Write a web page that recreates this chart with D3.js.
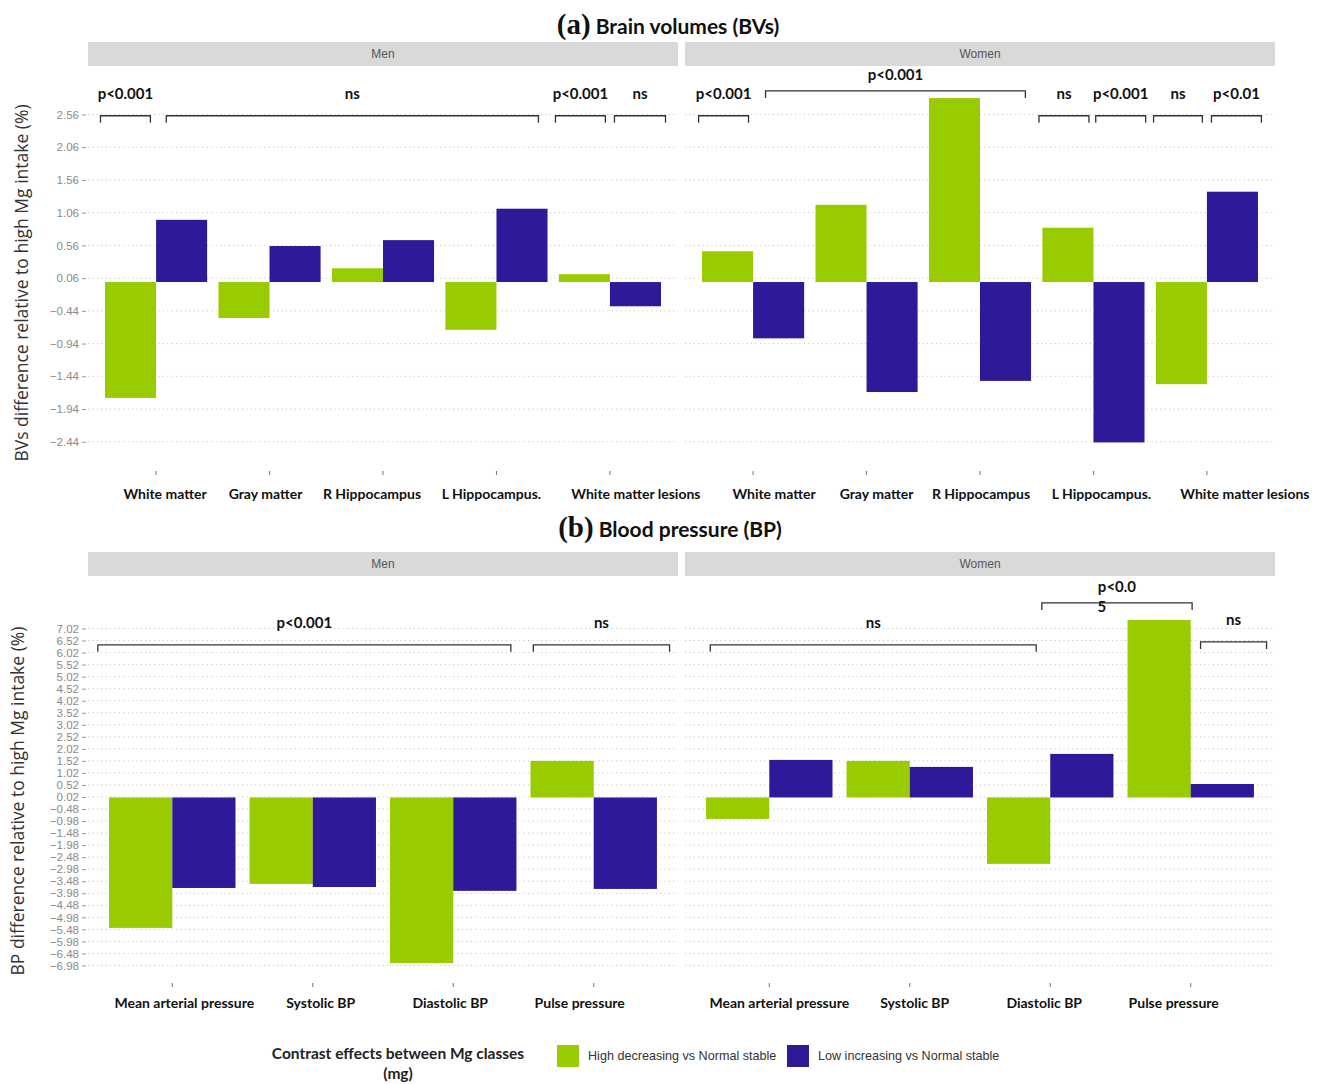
<!DOCTYPE html>
<html><head><meta charset="utf-8">
<script src="https://cdn.jsdelivr.net/npm/d3@7"></script>
<style>body{margin:0;background:#fff}</style>
</head><body><div id="chart"></div>
<script>
// ---------- DATA ----------
const facets = ["Men", "Women"];
const seriesNames = ["High decreasing vs Normal stable", "Low increasing vs Normal stable"];
const seriesColors = ["#99cc00", "#2e1a98"];

const bvCategories = ["White matter", "Gray matter", "R Hippocampus", "L Hippocampus.", "White matter lesions"];
const bvMenHigh   = [-1.77, -0.55, 0.21, -0.73, 0.12];
const bvMenLow    = [0.95, 0.55, 0.64, 1.12, -0.37];
const bvWomenHigh = [0.47, 1.18, 2.81, 0.83, -1.56];
const bvWomenLow  = [-0.86, -1.68, -1.51, -2.45, 1.38];
const bvTicks = [2.56, 2.06, 1.56, 1.06, 0.56, 0.06, -0.44, -0.94, -1.44, -1.94, -2.44];

const bpCategories = ["Mean arterial pressure", "Systolic BP", "Diastolic BP", "Pulse pressure"];
const bpMenHigh   = [-5.42, -3.59, -6.88, 1.52];
const bpMenLow    = [-3.76, -3.72, -3.88, -3.80];
const bpWomenHigh = [-0.89, 1.52, -2.76, 7.37];
const bpWomenLow  = [1.56, 1.27, 1.81, 0.56];
const bpTicks = [7.02, 6.52, 6.02, 5.52, 5.02, 4.52, 4.02, 3.52, 3.02, 2.52, 2.02, 1.52, 1.02, 0.52, 0.02,
  -0.48, -0.98, -1.48, -1.98, -2.48, -2.98, -3.48, -3.98, -4.48, -4.98, -5.48, -5.98, -6.48, -6.98];

// significance brackets: [facet, xStart, xEnd, y(level), label]
const bvBrackets = [
  ["Men", 0.51, 0.95, 2.54, "p<0.001"],
  ["Men", 1.09, 4.37, 2.54, "ns"],
  ["Men", 4.52, 4.96, 2.54, "p<0.001"],
  ["Men", 5.04, 5.49, 2.54, "ns"],
  ["Women", 0.52, 0.96, 2.54, "p<0.001"],
  ["Women", 1.11, 3.40, 2.92, "p<0.001"],
  ["Women", 3.52, 3.96, 2.54, "ns"],
  ["Women", 4.02, 4.46, 2.54, "p<0.001"],
  ["Women", 4.53, 4.96, 2.54, "ns"],
  ["Women", 5.04, 5.48, 2.54, "p<0.01"]
];
const bpBrackets = [
  ["Men", 0.47, 3.41, 6.34, "p<0.001"],
  ["Men", 3.57, 4.54, 6.34, "ns"],
  ["Women", 0.58, 2.90, 6.34, "ns"],
  ["Women", 2.94, 4.01, 8.08, "p<0.0|5"],
  ["Women", 4.07, 4.54, 6.46, "ns"]
];

// ---------- DRAW ----------
const W = 1324, H = 1084;
const svg = d3.select("#chart").append("svg").attr("width", W).attr("height", H)
  .style("font-family", "'Liberation Sans', Arial, sans-serif");

const facetRanges = {Men: [88, 678], Women: [685, 1275]};
const boldFont = "Lato, 'Open Sans', sans-serif";

function drawPanel(cfg) {
  const y = d3.scaleLinear().domain(cfg.yDomain).range([cfg.panelBottom, cfg.panelTop]);
  const n = cfg.categories.length;
  const g = svg.append("g");

  // title
  const t = g.append("text").attr("x", cfg.titleX).attr("y", cfg.titleY).attr("text-anchor", "middle");
  t.append("tspan").text(cfg.titleTag).attr("font-family", "'Liberation Serif', 'Times New Roman', serif")
    .attr("font-weight", "bold").attr("font-size", 29).attr("fill", "#111");
  t.append("tspan").text(" " + cfg.title).attr("font-family", boldFont)
    .attr("font-weight", "bold").attr("font-size", 21).attr("fill", "#111");

  // y axis title
  g.append("text")
    .attr("transform", `translate(${cfg.yTitleX},${cfg.yTitleY}) rotate(-90)`)
    .attr("text-anchor", "middle").attr("font-family", "'Open Sans', sans-serif")
    .attr("font-size", 17.5).attr("fill", "#333").text(cfg.yTitle);

  // y ticks labels
  const yAxis = d3.axisLeft(y).tickValues(cfg.ticks).tickSize(4).tickPadding(3)
    .tickFormat(d3.format(".2f"));
  const ya = g.append("g").attr("transform", `translate(86,0)`).call(yAxis);
  ya.select(".domain").remove();
  ya.selectAll(".tick line").attr("stroke", "#999");
  ya.selectAll(".tick text").attr("fill", "#8a8a8a").attr("font-size", 11.5)
    .attr("font-family", "'Liberation Sans', Arial, sans-serif");

  facets.forEach((f, fi) => {
    const [x0, x1] = facetRanges[f];
    const x = d3.scaleLinear().domain([0.4, n + 0.6]).range([x0, x1]);
    const fg = g.append("g");

    // strip
    fg.append("rect").attr("x", x0).attr("y", cfg.stripTop).attr("width", x1 - x0).attr("height", 24)
      .attr("fill", "#d9d9d9");
    fg.append("text").attr("x", (x0 + x1) / 2).attr("y", cfg.stripTop + 16).attr("text-anchor", "middle")
      .attr("font-size", 12).attr("fill", "#555").text(f);

    // gridlines
    fg.selectAll("line.grid").data(cfg.ticks).join("line").attr("class", "grid")
      .attr("x1", x0).attr("x2", x1).attr("y1", d => y(d)).attr("y2", d => y(d))
      .attr("stroke", "#c8c8c8").attr("stroke-width", 1).attr("stroke-dasharray", "1.2,3.2");

    // bars
    const sets = cfg.values[f];
    sets.forEach((vals, si) => {
      fg.selectAll("rect.s" + si).data(vals).join("rect").attr("class", "s" + si)
        .attr("x", (d, i) => x(i + 1 - 0.45 + si * 0.45))
        .attr("width", x(1.45) - x(1))
        .attr("y", d => y(Math.max(0, d)))
        .attr("height", d => Math.abs(y(d) - y(0)))
        .attr("fill", seriesColors[si]);
    });

    // x ticks + labels
    const xs = cfg.categories.map((c, i) => i + 1);
    fg.selectAll("line.xt").data(xs).join("line").attr("class", "xt")
      .attr("x1", d => x(d)).attr("x2", d => x(d))
      .attr("y1", cfg.xTickY).attr("y2", cfg.xTickY + 4).attr("stroke", "#777");
    fg.selectAll("text.xl").data(cfg.categories).join("text").attr("class", "xl")
      .attr("x", (d, i) => x(i + 1) + cfg.labelShift[fi][i]).attr("y", cfg.xLabelY)
      .attr("text-anchor", "middle").attr("font-family", boldFont).attr("font-weight", "bold")
      .attr("font-size", 14).attr("fill", "#111").text(d => d);

    // brackets
    cfg.brackets.filter(b => b[0] === f).forEach(b => {
      const [, s, e, lv, lab] = b;
      const yy = y(lv);
      const raised = lv > cfg.ticks[0] + 0.2;
      fg.append("path")
        .attr("d", `M${x(s)},${yy + 7}V${yy}H${x(e)}V${yy + 7}`)
        .attr("fill", "none").attr("stroke", "#333").attr("stroke-width", 1.3);
      const parts = lab.split("|");
      const cx = (x(s) + x(e)) / 2;
      fg.append("text").attr("x", cx).attr("y", yy - (raised ? 11 : 17)).attr("text-anchor", "middle")
        .attr("font-family", boldFont).attr("font-weight", "bold").attr("font-size", 15)
        .attr("fill", "#111").text(parts[0]);
      if (parts[1]) {
        fg.append("text").attr("x", cx - 15).attr("y", yy + 9).attr("text-anchor", "middle")
          .attr("font-family", boldFont).attr("font-weight", "bold").attr("font-size", 15)
          .attr("fill", "#111").text(parts[1]);
      }
    });
  });
}

drawPanel({
  titleTag: "(a)", title: "Brain volumes (BVs)", titleX: 668, titleY: 34,
  yTitle: "BVs difference relative to high Mg intake (%)", yTitleX: 28, yTitleY: 283,
  stripTop: 42, panelTop: 66, panelBottom: 466, yDomain: [-2.81, 3.30],
  ticks: bvTicks, categories: bvCategories,
  values: {Men: [bvMenHigh, bvMenLow], Women: [bvWomenHigh, bvWomenLow]},
  brackets: bvBrackets, xTickY: 471, xLabelY: 499,
  labelShift: [[9, -4, -11, -5, 26], [21, 10, 1, 8, 38]]
});

drawPanel({
  titleTag: "(b)", title: "Blood pressure (BP)", titleX: 670, titleY: 537,
  yTitle: "BP difference relative to high Mg intake (%)", yTitleX: 24, yTitleY: 801,
  stripTop: 552, panelTop: 576, panelBottom: 978, yDomain: [-7.5, 9.2],
  ticks: bpTicks, categories: bpCategories,
  values: {Men: [bpMenHigh, bpMenLow], Women: [bpWomenHigh, bpWomenLow]},
  brackets: bpBrackets, xTickY: 983, xLabelY: 1008,
  labelShift: [[12, 8, -3, -14], [10, 5, -6, -17]]
});

// legend
const lg = svg.append("g");
lg.append("text").attr("x", 398).attr("y", 1059).attr("text-anchor", "middle")
  .attr("font-family", boldFont).attr("font-weight", "bold").attr("font-size", 15.5).attr("fill", "#222")
  .text("Contrast effects between Mg classes");
lg.append("text").attr("x", 398).attr("y", 1079).attr("text-anchor", "middle")
  .attr("font-family", boldFont).attr("font-weight", "bold").attr("font-size", 15.5).attr("fill", "#222")
  .text("(mg)");
const legX = [557, 787];
seriesNames.forEach((s, i) => {
  lg.append("rect").attr("x", legX[i]).attr("y", 1045).attr("width", 22).attr("height", 22)
    .attr("fill", seriesColors[i]);
  lg.append("text").attr("x", legX[i] + 31).attr("y", 1060).attr("font-size", 12.6).attr("fill", "#333")
    .text(s);
});
</script>
</body></html>
